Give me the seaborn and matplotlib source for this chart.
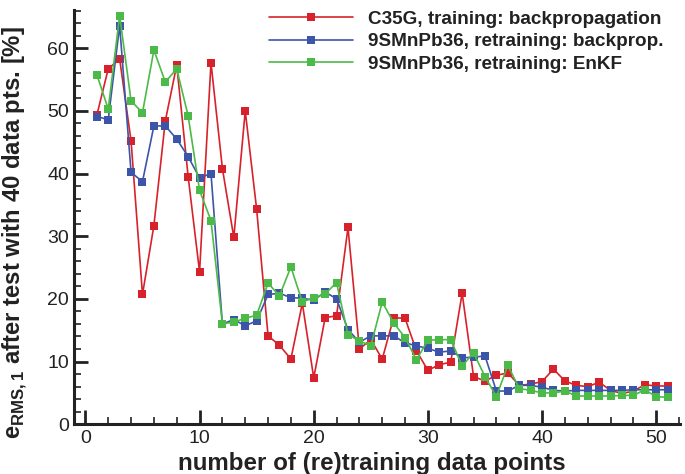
import numpy as np
import pandas as pd
import matplotlib
matplotlib.use("Agg")
import matplotlib.pyplot as plt
import seaborn as sns
from matplotlib.ticker import MultipleLocator

x_points = list(range(1, 52))
c35g_bp = [49.3, 56.7, 58.3, 45.2, 20.7, 31.7, 48.4, 57.3, 39.5, 24.3,
           57.7, 40.8, 29.8, 50.0, 34.3, 14.1, 12.6, 10.4, 19.3, 7.4,
           17.0, 17.3, 31.4, 12.0, 13.5, 10.4, 17.0, 16.9, 11.7, 8.6,
           9.5, 9.9, 20.9, 7.6, 6.9, 7.8, 8.2, 6.2, 6.4, 6.8,
           8.8, 6.9, 6.2, 6.0, 6.7, 5.4, 4.9, 5.3, 6.3, 6.1, 6.1]
smn_bp = [49.1, 48.6, 63.6, 40.2, 38.7, 47.6, 47.6, 45.5, 42.7, 39.3,
          40.0, 16.0, 16.7, 15.7, 16.5, 20.7, 20.9, 20.2, 20.1, 19.8,
          21.1, 20.0, 15.1, 13.1, 14.1, 14.1, 14.1, 13.0, 12.5, 12.1,
          11.5, 11.7, 10.6, 10.7, 10.9, 5.3, 5.3, 6.2, 6.2, 5.9,
          5.4, 5.3, 5.4, 5.4, 5.4, 5.4, 5.4, 5.5, 5.5, 5.5, 5.5]
smn_enkf = [55.8, 50.3, 65.2, 51.6, 49.7, 59.7, 54.6, 56.7, 49.2, 37.3,
            32.5, 16.0, 16.3, 16.9, 17.4, 22.5, 20.5, 25.1, 19.5, 20.2,
            20.8, 22.6, 14.3, 13.3, 12.5, 19.5, 16.2, 13.8, 10.3, 13.4,
            13.5, 13.5, 9.3, 11.4, 7.6, 4.4, 9.4, 5.7, 5.4, 5.0,
            5.0, 5.3, 4.5, 4.5, 4.5, 4.5, 4.6, 4.6, 5.5, 4.4, 4.3]
labels = ["C35G, training: backpropagation",
          "9SMnPb36, retraining: backprop.",
          "9SMnPb36, retraining: EnKF"]
colors = ["#d7222b", "#3d55a8", "#4cba48"]

df = pd.concat([
    pd.DataFrame({"x": x_points, "y": vals, "series": lab})
    for vals, lab in zip([c35g_bp, smn_bp, smn_enkf], labels)
])

sns.set_theme(style="ticks")
plt.rcParams["font.family"] = ["Liberation Sans", "DejaVu Sans"]
plt.rcParams["mathtext.fontset"] = "custom"
plt.rcParams["mathtext.rm"] = "Liberation Sans"
plt.rcParams["mathtext.bf"] = "Liberation Sans:bold"

fig = plt.figure(figsize=(6.85, 4.74), dpi=100)
ax = fig.add_axes([0.108, 0.105, 0.885, 0.874])

sns.lineplot(data=df, x="x", y="y", hue="series", hue_order=labels,
             palette=colors, marker="s", markersize=5.5, markeredgewidth=0,
             linewidth=1.2, ax=ax, sort=False)

ax.set_xlim(-1, 52.1)
ax.set_ylim(0, 66.1)
ax.xaxis.set_major_locator(MultipleLocator(10))
ax.xaxis.set_minor_locator(MultipleLocator(2))
ax.yaxis.set_major_locator(MultipleLocator(10))
ax.yaxis.set_minor_locator(MultipleLocator(2))
ax.tick_params(which="both", direction="in", colors="#222222",
               labelsize=14, top=False, right=False, labelcolor="#222222")
ax.tick_params(which="major", length=10, width=2)
ax.tick_params(which="minor", length=5, width=1.2)
ax.tick_params(axis="x", pad=4)
for s in ["top", "right"]:
    ax.spines[s].set_visible(False)
for s in ["left", "bottom"]:
    ax.spines[s].set_linewidth(2.2)
    ax.spines[s].set_color("#222222")

ax.set_xlabel("number of (re)training data points", fontsize=17.4,
              fontweight="bold", color="#222222")
ax.xaxis.set_label_coords(0.492, -0.068)
ax.set_ylabel(r"e$_{\mathbf{RMS,1}}$ after test with 40 data pts. [%]",
              fontsize=17.2, fontweight="bold", color="#222222")
ax.yaxis.set_label_coords(-0.075, 0.463)

leg = ax.legend(loc="upper right", bbox_to_anchor=(1.0, 1.04), frameon=False,
                fontsize=13.6, handlelength=4.4, handletextpad=0.8,
                labelspacing=0.29, markerscale=1.0)
for t in leg.get_texts():
    t.set_fontweight("bold")
    t.set_color("#222222")

fig.savefig("out.png", dpi=100)
